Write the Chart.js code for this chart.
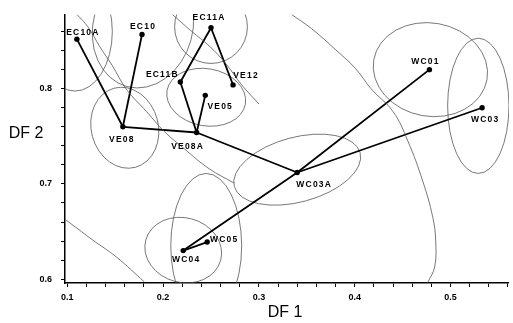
<!DOCTYPE html>
<html>
<head>
<meta charset="utf-8">
<script src="https://cdn.jsdelivr.net/npm/chart.js@4"></script>
<style>html,body{margin:0;background:#fff}</style>
</head>
<body>
<canvas id="df-chart" width="513" height="323"></canvas>
<script>
// group centroids on the two discriminant functions
const siteNames = ['EC10A', 'EC10', 'EC11A', 'EC11B', 'VE12', 'VE05', 'VE08', 'VE08A', 'WC03A', 'WC01', 'WC03', 'WC04', 'WC05'];
const df1Values = [0.110, 0.178, 0.250, 0.218, 0.273, 0.244, 0.158, 0.235, 0.340, 0.478, 0.533, 0.221, 0.246];
const df2Values = [0.852, 0.857, 0.864, 0.807, 0.804, 0.793, 0.760, 0.754, 0.712, 0.820, 0.780, 0.630, 0.639];

// tree links
const linkFrom = ['EC10A', 'EC10', 'VE08', 'EC11A', 'EC11A', 'EC11B', 'VE05', 'VE08A', 'WC03A', 'WC03A', 'WC03A', 'WC04'];
const linkTo = ['VE08', 'VE08', 'VE08A', 'EC11B', 'VE12', 'VE08A', 'VE08A', 'WC03A', 'WC01', 'WC03', 'WC04', 'WC05'];

// dispersion ellipses, data units
const ellipseX = [0.108, 0.179, 0.250, 0.245, 0.160, 0.479, 0.529, 0.340, 0.221, 0.245];
const ellipseY = [0.860, 0.865, 0.865, 0.791, 0.759, 0.820, 0.782, 0.715, 0.6305, 0.635];
const ellipseRx = [0.039, 0.052, 0.038, 0.0415, 0.035, 0.060, 0.032, 0.068, 0.0405, 0.037];
const ellipseRy = [0.0625, 0.065, 0.0385, 0.030, 0.043, 0.049, 0.071, 0.034, 0.034, 0.076];
const ellipseTilt = [0, 15, 0, 10, -15, 10, 0, -15, 15, 0];

// large boundary curves
const curveAx = [0.0987, 0.1028, 0.1267, 0.1516, 0.1806];
const curveAy = [0.662, 0.659, 0.641, 0.623, 0.597];
const curveBx = [0.334, 0.355, 0.380, 0.401, 0.417, 0.440, 0.4555, 0.471, 0.4815, 0.4845, 0.4835, 0.476];
const curveBy = [0.878, 0.863, 0.841, 0.821, 0.800, 0.776, 0.745, 0.703, 0.665, 0.641, 0.613, 0.596];
const curveCx = [0.2097, 0.230, 0.248, 0.2657, 0.282, 0.300];
const curveCy = [0.878, 0.860, 0.845, 0.826, 0.804, 0.784];
const curveDx = [0.110, 0.1215, 0.134, 0.1465, 0.162, 0.1827, 0.2013, 0.222, 0.248, 0.274];
const curveDy = [0.878, 0.865, 0.844, 0.825, 0.799, 0.776, 0.755, 0.737, 0.716, 0.701];

// axes
const xTickValues = [0.1, 0.12, 0.14, 0.16, 0.18, 0.2, 0.22, 0.24, 0.26, 0.28, 0.3, 0.32, 0.34, 0.36, 0.38, 0.4, 0.42, 0.44, 0.46, 0.48, 0.5, 0.52, 0.54, 0.56];
const xTickLabels = ['0.1', '', '', '', '', '0.2', '', '', '', '', '0.3', '', '', '', '', '0.4', '', '', '', '', '0.5', '', '', ''];
const yTickValues = [0.6, 0.62, 0.64, 0.66, 0.68, 0.7, 0.72, 0.74, 0.76, 0.78, 0.8, 0.82, 0.84, 0.86];
const yTickLabels = ['0.6', '', '', '', '', '0.7', '', '', '', '', '0.8', '', '', ''];

const labelOffsets = {
  EC10A: [6, -7], EC10: [1, -8], EC11A: [-2, -10], EC11B: [-18, -7], VE12: [13, -9],
  VE05: [15, 11], VE08: [-1, 13], VE08A: [-9, 14], WC03A: [17, 12], WC01: [-4, -8],
  WC03: [3, 12], WC04: [3, 9], WC05: [17, -2]
};

function pointOf(name) {
  const i = siteNames.indexOf(name);
  return { x: df1Values[i], y: df2Values[i] };
}

function curve(xs, ys) {
  return {
    data: xs.map((v, i) => ({ x: v, y: ys[i] })),
    showLine: true,
    borderColor: '#555',
    borderWidth: 0.8,
    pointRadius: 0,
    tension: 0.4
  };
}

const datasets = [];
datasets.push(curve(curveAx, curveAy));
datasets.push(curve(curveBx, curveBy));
datasets.push(curve(curveCx, curveCy));
datasets.push(curve(curveDx, curveDy));

linkFrom.forEach((a, i) => {
  datasets.push({
    data: [pointOf(a), pointOf(linkTo[i])],
    showLine: true,
    borderColor: '#000',
    borderWidth: 1.8,
    pointRadius: 0
  });
});

datasets.push({
  data: siteNames.map((n, i) => ({ x: df1Values[i], y: df2Values[i] })),
  pointRadius: 2.7,
  pointBackgroundColor: '#000',
  pointBorderColor: '#000',
  pointBorderWidth: 0
});

const ellipsePlugin = {
  id: 'ellipses',
  beforeDatasetsDraw(chart) {
    const { ctx, chartArea, scales: { x, y } } = chart;
    ctx.save();
    ctx.beginPath();
    ctx.rect(chartArea.left, chartArea.top, chartArea.width, chartArea.height);
    ctx.clip();
    ctx.strokeStyle = '#555';
    ctx.lineWidth = 0.8;
    ellipseX.forEach((cx, i) => {
      const px = x.getPixelForValue(cx);
      const py = y.getPixelForValue(ellipseY[i]);
      const rx = x.getPixelForValue(cx + ellipseRx[i]) - px;
      const ry = py - y.getPixelForValue(ellipseY[i] + ellipseRy[i]);
      ctx.beginPath();
      ctx.ellipse(px, py, rx, ry, ellipseTilt[i] * Math.PI / 180, 0, Math.PI * 2);
      ctx.stroke();
    });
    ctx.restore();
  }
};

const labelPlugin = {
  id: 'siteLabels',
  afterDatasetsDraw(chart) {
    const { ctx, scales: { x, y } } = chart;
    ctx.save();
    ctx.font = 'bold 8.5px "Liberation Sans", Arial, sans-serif';
    ctx.letterSpacing = '1.2px';
    ctx.fillStyle = '#000';
    ctx.textAlign = 'center';
    ctx.textBaseline = 'middle';
    siteNames.forEach((n, i) => {
      const off = labelOffsets[n];
      ctx.fillText(n, x.getPixelForValue(df1Values[i]) + off[0], y.getPixelForValue(df2Values[i]) + off[1]);
    });
    ctx.restore();
  }
};

const titlePlugin = {
  id: 'axisTitles',
  afterDraw(chart) {
    const { ctx } = chart;
    ctx.save();
    ctx.font = '16px "Liberation Sans", Arial, sans-serif';
    ctx.fillStyle = '#000';
    ctx.textAlign = 'center';
    ctx.textBaseline = 'middle';
    ctx.fillText('DF 2', 26, 134);
    ctx.fillText('DF 1', 285, 313);
    ctx.restore();
  }
};

const tickFont = { family: '"Liberation Sans", Arial, sans-serif', size: 9, weight: 'bold' };

new Chart(document.getElementById('df-chart'), {
  type: 'scatter',
  data: { datasets },
  options: {
    responsive: false,
    animation: false,
    layout: { padding: { top: 12, right: 1, left: 0, bottom: 0 } },
    plugins: { legend: { display: false }, tooltip: { enabled: false } },
    scales: {
      x: {
        type: 'linear',
        min: 0.0976,
        max: 0.561,
        afterBuildTicks: (s) => { s.ticks = xTickValues.map(v => ({ value: v })); },
        afterFit: (s) => { s.height = 40; },
        ticks: {
          autoSkip: false,
          maxRotation: 0,
          padding: 5,
          color: '#000',
          font: tickFont,
          callback: (v, i) => xTickLabels[i]
        },
        grid: { drawOnChartArea: false, drawTicks: true, tickLength: 4, color: '#000', lineWidth: 1 },
        border: { display: true, color: '#000', width: 1.5 }
      },
      y: {
        type: 'linear',
        min: 0.596,
        max: 0.878,
        afterBuildTicks: (s) => { s.ticks = yTickValues.map(v => ({ value: v })); },
        afterFit: (s) => { s.width = 65; },
        ticks: {
          autoSkip: false,
          padding: 9,
          color: '#000',
          font: tickFont,
          callback: (v, i) => yTickLabels[i]
        },
        grid: { drawOnChartArea: false, drawTicks: true, tickLength: 4, color: '#000', lineWidth: 1 },
        border: { display: true, color: '#000', width: 1.5 }
      }
    }
  },
  plugins: [ellipsePlugin, labelPlugin, titlePlugin]
});
</script>
</body>
</html>
